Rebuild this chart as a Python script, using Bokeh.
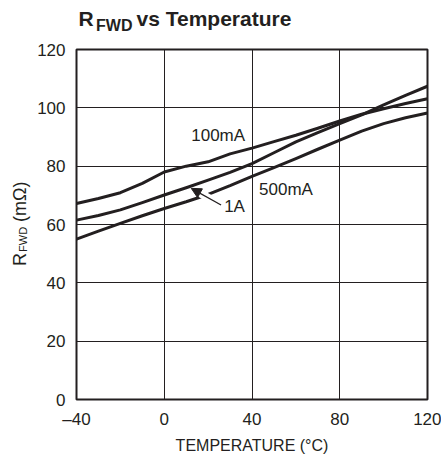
import math
from bokeh.plotting import figure
from bokeh.layouts import column, row
from bokeh.models import FixedTicker, Label, Arrow, NormalHead
from bokeh.embed import file_html
from bokeh.resources import INLINE

# ---- data ----
temps = [-40, -30, -20, -10, 0, 10, 20, 30, 40, 50, 60, 70, 80, 90, 100, 110, 120]
r_100ma = [67.2, 68.9, 70.9, 74.1, 78.0, 80.0, 81.5, 84.2, 86.2, 88.4, 90.6, 93.0, 95.5, 97.8, 99.7, 101.5, 103.1]
r_1a = [61.5, 63.1, 65.0, 67.5, 70.1, 72.6, 75.2, 77.9, 80.9, 84.6, 88.3, 91.5, 94.6, 97.6, 101.0, 104.3, 107.4]
r_500ma = [55.0, 57.7, 60.4, 63.0, 65.5, 67.8, 70.3, 73.3, 76.5, 79.5, 82.6, 85.8, 88.9, 92.0, 94.6, 96.6, 98.2]
series_names = ["100mA", "1A", "500mA"]

x_ticks = [-40, 0, 40, 80, 120]
x_tick_labels = ["\u201340", "0", "40", "80", "120"]
y_ticks = [0, 20, 40, 60, 80, 100, 120]
y_tick_labels = ["0", "20", "40", "60", "80", "100", "120"]

title_main = "R"
title_sub = "FWD"
title_rest = "vs Temperature"
ylab_main = "R"
ylab_sub = "FWD"
ylab_rest = "(m\u03a9)"
xlab = "TEMPERATURE (\u00b0C)"

FONT = "Liberation Sans"
INK = "#231f20"

W, H = 441, 456
TITLE_H = 40
YLAB_W = 34
FRAME_TOP, FRAME_BOTTOM = 49, 400   # window pixels of the plot frame

# ---------------- main chart ----------------
p = figure(width=W - YLAB_W, height=H - TITLE_H, x_range=(-40, 120), y_range=(0, 120),
           output_backend="svg", toolbar_location=None,
           min_border_left=41, min_border_right=14, min_border_top=9, min_border_bottom=56)
p.background_fill_color = "white"
p.border_fill_color = "white"
p.outline_line_color = INK
p.outline_line_width = 2

for ax, ticks, labels in ((p.xaxis, x_ticks, x_tick_labels), (p.yaxis, y_ticks, y_tick_labels)):
    ax.ticker = FixedTicker(ticks=ticks)
    ax.major_label_overrides = dict(zip(ticks, labels))
    ax.axis_line_color = None
    ax.major_tick_in = 0
    ax.major_tick_out = 0
    ax.minor_tick_line_color = None
    ax.major_label_text_font = FONT
    ax.major_label_text_font_size = "17px"
    ax.major_label_text_color = INK
p.xaxis.major_label_standoff = 10
p.yaxis.major_label_standoff = 11

p.xaxis.axis_label = xlab
p.xaxis.axis_label_text_font = FONT
p.xaxis.axis_label_text_font_size = "16px"
p.xaxis.axis_label_text_font_style = "normal"
p.xaxis.axis_label_text_color = INK
p.xaxis.axis_label_standoff = 5

p.xgrid.ticker = FixedTicker(ticks=x_ticks)
p.ygrid.ticker = FixedTicker(ticks=y_ticks)
for g in (p.xgrid, p.ygrid):
    g.grid_line_color = INK
    g.grid_line_width = 1
    g.grid_line_alpha = 1.0

for ys in (r_100ma, r_1a, r_500ma):
    p.line(temps, ys, line_color=INK, line_width=3, line_join="round", line_cap="round")

# curve labels (anchored at the vertical middle of the text)
lab_kw = dict(text_font=FONT, text_font_size="17px", text_color=INK,
              text_baseline="middle", text_align="left")
p.add_layout(Label(x=12.3, y=90.4, text=series_names[0], **lab_kw))
p.add_layout(Label(x=27.3, y=66.2, text=series_names[1], **lab_kw))
p.add_layout(Label(x=43.2, y=72.1, text=series_names[2], **lab_kw))

# arrow for 1A, with a white gap where it crosses the 500mA curve
p.add_layout(Arrow(end=None, x_start=25.9, y_start=66.7, x_end=16.4, y_end=70.7,
                   line_color="white", line_width=8))
p.add_layout(Arrow(end=NormalHead(size=10, fill_color=INK, line_color=INK),
                   x_start=25.9, y_start=66.7, x_end=12.3, y_end=72.4,
                   line_color=INK, line_width=1.3))

# ---------------- title strip (pixel coordinates, y down) ----------------
tf = figure(width=W, height=TITLE_H, x_range=(0, W), y_range=(TITLE_H, 0),
            x_axis_type=None, y_axis_type=None, output_backend="svg",
            toolbar_location=None, min_border=0)
tf.outline_line_color = None
tf.grid.visible = False
t_kw = dict(text_font=FONT, text_font_style="bold", text_color=INK,
            text_baseline="middle", text_align="left")
tf.add_layout(Label(x=78, y=17.5, text=title_main, text_font_size="21px", **t_kw))
tf.add_layout(Label(x=95.5, y=24.5, text=title_sub, text_font_size="16px", **t_kw))
tf.add_layout(Label(x=136, y=17.5, text=title_rest, text_font_size="21px", **t_kw))

# ---------------- y-axis title strip (frame aligned with main frame, y down) ----------------
yf = figure(width=YLAB_W, height=H - TITLE_H, x_range=(0, YLAB_W), y_range=(FRAME_BOTTOM, FRAME_TOP),
            x_axis_type=None, y_axis_type=None, output_backend="svg",
            toolbar_location=None, min_border=0)
yf.outline_line_color = None
yf.grid.visible = False
y_kw = dict(text_font=FONT, text_color=INK, angle=math.pi / 2,
            text_baseline="middle", text_align="left")
yf.add_layout(Label(x=19.7, y=266, text=ylab_main, text_font_size="18px", **y_kw))
yf.add_layout(Label(x=22.5, y=252, text=ylab_sub, text_font_size="11px", **y_kw))
yf.add_layout(Label(x=19.7, y=222, text=ylab_rest, text_font_size="18px", **y_kw))

layout = column(tf, row(yf, p))
open("out.html", "w").write(file_html(layout, INLINE))
